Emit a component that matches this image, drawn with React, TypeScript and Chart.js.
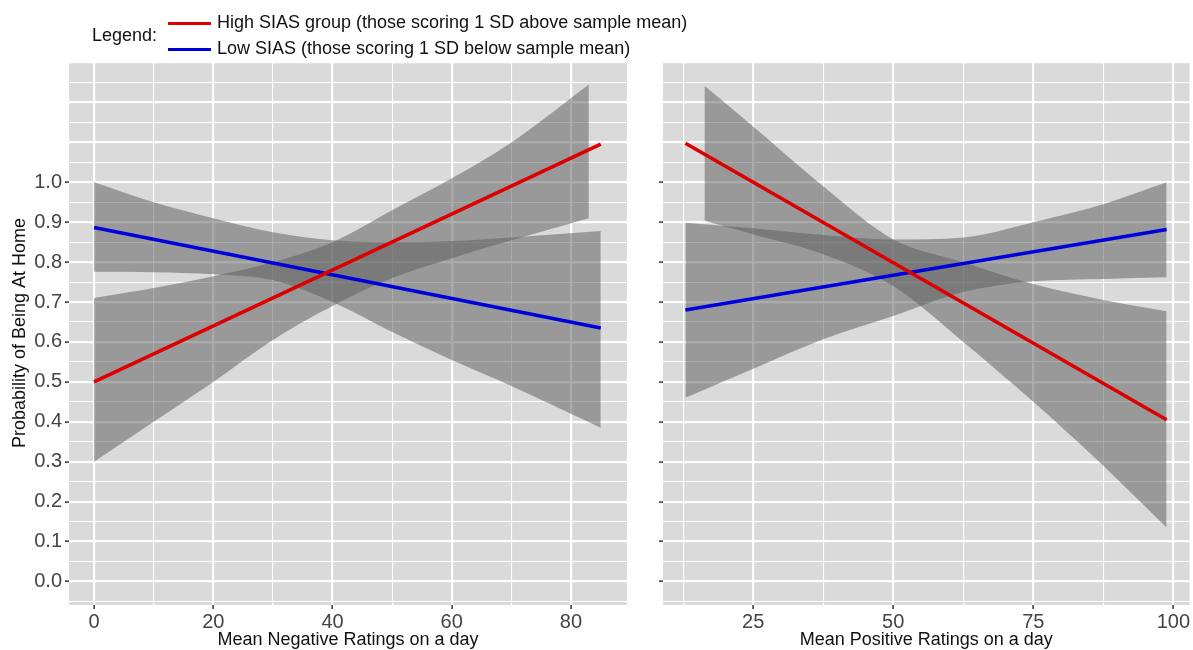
import React, { useEffect, useRef } from 'react';
import { Chart, registerables } from 'chart.js';

Chart.register(...registerables);

const FONT = "'Liberation Sans', Arial, Helvetica, sans-serif";

// ---- text ----
const LEGEND_TITLE = 'Legend:';
const SERIES_NAMES = [
  'High SIAS group (those scoring 1 SD above sample mean)',
  'Low SIAS (those scoring 1 SD below sample mean)',
];
const SERIES_COLORS = ['#DD0000', '#0000DD'];
const Y_TITLE = 'Probability of Being At Home';
const NEG_X_TITLE = 'Mean Negative Ratings on a day';
const POS_X_TITLE = 'Mean Positive Ratings on a day';

// ---- ticks ----
const Y_LABELED = [0, 0.1, 0.2, 0.3, 0.4, 0.5, 0.6, 0.7, 0.8, 0.9, 1.0];
const Y_GRID = [
  -0.05, 0, 0.05, 0.1, 0.15, 0.2, 0.25, 0.3, 0.35, 0.4, 0.45, 0.5, 0.55, 0.6, 0.65,
  0.7, 0.75, 0.8, 0.85, 0.9, 0.95, 1.0, 1.05, 1.1, 1.15, 1.2, 1.25, 1.3,
];
const NEG_X_LABELED = [0, 20, 40, 60, 80];
const NEG_X_GRID = [0, 10, 20, 30, 40, 50, 60, 70, 80];
const POS_X_LABELED = [25, 50, 75, 100];
const POS_X_GRID = [12.5, 25, 37.5, 50, 62.5, 75, 87.5, 100];

// ---- left panel: negative ratings ----
const NEG_LINE_X = [0, 85];
const NEG_HIGH_LINE = [0.5, 1.096];
const NEG_LOW_LINE = [0.887, 0.635];
const NEG_HIGH_BAND_X = [0, 10, 20, 30, 40, 50, 60, 70, 83];
const NEG_HIGH_BAND_UP = [0.71, 0.735, 0.765, 0.8, 0.85, 0.93, 1.01, 1.1, 1.245];
const NEG_HIGH_BAND_LO = [0.3, 0.4, 0.5, 0.605, 0.69, 0.76, 0.81, 0.855, 0.91];
const NEG_LOW_BAND_X = [0, 10, 20, 30, 40, 50, 60, 70, 85];
const NEG_LOW_BAND_UP = [1.0, 0.95, 0.91, 0.875, 0.855, 0.85, 0.853, 0.862, 0.878];
const NEG_LOW_BAND_LO = [0.776, 0.775, 0.77, 0.755, 0.7, 0.625, 0.555, 0.49, 0.385];

// ---- right panel: positive ratings ----
const POS_LINE_X = [12.9, 98.8];
const POS_HIGH_LINE = [1.098, 0.405];
const POS_LOW_LINE = [0.68, 0.882];
const POS_HIGH_BAND_X = [16.3, 25, 37.5, 50, 62.5, 75, 87.5, 98.8];
const POS_HIGH_BAND_UP = [1.242, 1.14, 0.99, 0.857, 0.8, 0.745, 0.705, 0.677];
const POS_HIGH_BAND_LO = [0.904, 0.87, 0.82, 0.74, 0.6, 0.45, 0.29, 0.135];
const POS_LOW_BAND_X = [12.9, 25, 37.5, 50, 62.5, 75, 87.5, 98.8];
const POS_LOW_BAND_UP = [0.899, 0.885, 0.868, 0.857, 0.862, 0.9, 0.945, 1.0];
const POS_LOW_BAND_LO = [0.46, 0.533, 0.607, 0.665, 0.725, 0.752, 0.758, 0.762];

const PANEL_BG = '#DADADA';
const BAND_FILL = 'rgba(94,94,94,0.52)';
const GRID_COLOR = '#FFFFFF';
const TICK_TEXT = '#444444';
const TITLE_TEXT = '#111111';

const key = (v: number) => Math.round(v * 1000);
const pts = (xs: number[], ys: number[]) => xs.map((x, i) => ({ x, y: ys[i] }));

const panelBg = {
  id: 'panelBg',
  beforeDraw(chart: any) {
    const { ctx, chartArea } = chart;
    ctx.save();
    ctx.fillStyle = PANEL_BG;
    ctx.fillRect(chartArea.left, chartArea.top, chartArea.right - chartArea.left, chartArea.bottom - chartArea.top);
    ctx.restore();
  },
};

function band(xs: number[], up: number[], lo: number[]) {
  return [
    {
      type: 'line',
      data: pts(xs, up),
      borderWidth: 0,
      borderColor: 'rgba(0,0,0,0)',
      pointRadius: 0,
      backgroundColor: BAND_FILL,
      fill: '+1',
      cubicInterpolationMode: 'monotone',
      order: 2,
    },
    {
      type: 'line',
      data: pts(xs, lo),
      borderWidth: 0,
      borderColor: 'rgba(0,0,0,0)',
      pointRadius: 0,
      fill: false,
      cubicInterpolationMode: 'monotone',
      order: 2,
    },
  ];
}

function line(xs: number[], ys: number[], color: string) {
  return {
    type: 'line',
    data: pts(xs, ys),
    borderColor: color,
    borderWidth: 3.6,
    pointRadius: 0,
    fill: false,
    tension: 0,
    order: 0,
  };
}

interface PanelSpec {
  xMin: number;
  xMax: number;
  xGrid: number[];
  xLabeled: number[];
  xTitle: string;
  yWidth: number;
  showYLabels: boolean;
  rightPad: number;
  datasets: any[];
}

function buildConfig(p: PanelSpec): any {
  const xLab = new Set(p.xLabeled.map(key));
  const yLab = new Set(Y_LABELED.map(key));
  const yMajor = (v: number) => Math.round(v * 100) % 10 === 0;
  return {
    type: 'line',
    data: { datasets: p.datasets },
    plugins: [panelBg],
    options: {
      responsive: false,
      animation: false,
      events: [],
      layout: { padding: { top: 61, right: p.rightPad, left: 0, bottom: 0 }, autoPadding: false },
      plugins: { legend: { display: false }, tooltip: { enabled: false } },
      scales: {
        x: {
          type: 'linear',
          position: 'bottom',
          min: p.xMin,
          max: p.xMax,
          afterBuildTicks: (s: any) => {
            s.ticks = p.xGrid.map((v) => ({ value: v }));
          },
          afterFit: (s: any) => {
            s.height = 45;
          },
          border: { display: false },
          grid: {
            color: GRID_COLOR,
            lineWidth: (c: any) => (c.tick && xLab.has(key(c.tick.value)) ? 2.2 : 1.1),
            drawTicks: true,
            tickLength: 4,
            tickWidth: 1.5,
            tickColor: (c: any) => (c.tick && xLab.has(key(c.tick.value)) ? '#333333' : 'rgba(0,0,0,0)'),
          },
          ticks: {
            autoSkip: false,
            maxRotation: 0,
            padding: 3,
            color: TICK_TEXT,
            font: { family: FONT, size: 20, lineHeight: 1 },
            callback: (v: number) => (xLab.has(key(v)) ? String(Math.round(v)) : ''),
          },
          title: {
            display: true,
            text: p.xTitle,
            color: TITLE_TEXT,
            font: { family: FONT, size: 18, lineHeight: 1 },
            padding: { top: 0, bottom: 1.3 },
          },
        },
        y: {
          type: 'linear',
          position: 'left',
          min: -0.059,
          max: 1.304,
          afterBuildTicks: (s: any) => {
            s.ticks = Y_GRID.map((v) => ({ value: v }));
          },
          afterFit: (s: any) => {
            s.width = p.yWidth;
          },
          border: { display: false },
          grid: {
            color: GRID_COLOR,
            lineWidth: (c: any) => (c.tick && yMajor(c.tick.value) ? 2.2 : 1.1),
            drawTicks: true,
            tickLength: 4,
            tickWidth: 1.5,
            tickColor: (c: any) => (c.tick && yLab.has(key(c.tick.value)) ? '#333333' : 'rgba(0,0,0,0)'),
          },
          ticks: {
            autoSkip: false,
            padding: 3,
            color: TICK_TEXT,
            font: { family: FONT, size: 20, lineHeight: 1 },
            callback: (v: number) => (p.showYLabels && yLab.has(key(v)) ? v.toFixed(1) : ''),
          },
          title: {
            display: p.showYLabels,
            text: Y_TITLE,
            color: TITLE_TEXT,
            font: { family: FONT, size: 18, lineHeight: 1 },
            padding: { top: 11, bottom: 0 },
          },
        },
      },
    },
  };
}

export default function App() {
  const leftRef = useRef<HTMLCanvasElement>(null);
  const rightRef = useRef<HTMLCanvasElement>(null);

  useEffect(() => {
    const left = new Chart(
      leftRef.current as HTMLCanvasElement,
      buildConfig({
        xMin: -4.2,
        xMax: 89.4,
        xGrid: NEG_X_GRID,
        xLabeled: NEG_X_LABELED,
        xTitle: NEG_X_TITLE,
        yWidth: 69,
        showYLabels: true,
        rightPad: 13,
        datasets: [
          line(NEG_LINE_X, NEG_HIGH_LINE, SERIES_COLORS[0]),
          line(NEG_LINE_X, NEG_LOW_LINE, SERIES_COLORS[1]),
          ...band(NEG_HIGH_BAND_X, NEG_HIGH_BAND_UP, NEG_HIGH_BAND_LO),
          ...band(NEG_LOW_BAND_X, NEG_LOW_BAND_UP, NEG_LOW_BAND_LO),
        ],
      })
    );
    const right = new Chart(
      rightRef.current as HTMLCanvasElement,
      buildConfig({
        xMin: 8.9,
        xMax: 102.9,
        xGrid: POS_X_GRID,
        xLabeled: POS_X_LABELED,
        xTitle: POS_X_TITLE,
        yWidth: 23,
        showYLabels: false,
        rightPad: 0,
        datasets: [
          line(POS_LINE_X, POS_HIGH_LINE, SERIES_COLORS[0]),
          line(POS_LINE_X, POS_LOW_LINE, SERIES_COLORS[1]),
          ...band(POS_HIGH_BAND_X, POS_HIGH_BAND_UP, POS_HIGH_BAND_LO),
          ...band(POS_LOW_BAND_X, POS_LOW_BAND_UP, POS_LOW_BAND_LO),
        ],
      })
    );
    return () => {
      left.destroy();
      right.destroy();
    };
  }, []);

  const text: React.CSSProperties = {
    position: 'absolute',
    fontSize: 18,
    lineHeight: '18px',
    color: '#111',
    whiteSpace: 'nowrap',
  };
  const swatch: React.CSSProperties = { position: 'absolute', left: 168, width: 43, height: 3.5 };

  return (
    <div
      style={{
        position: 'fixed',
        left: 0,
        top: 0,
        width: 1193,
        height: 650,
        background: '#fff',
        overflow: 'hidden',
        fontFamily: FONT,
      }}
    >
      <canvas ref={leftRef} width={640} height={650} style={{ position: 'absolute', left: 0, top: 0, width: 640, height: 650 }} />
      <canvas ref={rightRef} width={553} height={650} style={{ position: 'absolute', left: 640, top: 0, width: 553, height: 650 }} />
      <div style={{ ...text, left: 92, top: 26 }}>{LEGEND_TITLE}</div>
      <div style={{ ...swatch, top: 21.5, background: SERIES_COLORS[0] }} />
      <div style={{ ...text, left: 217, top: 13 }}>{SERIES_NAMES[0]}</div>
      <div style={{ ...swatch, top: 47.5, background: SERIES_COLORS[1] }} />
      <div style={{ ...text, left: 217, top: 39 }}>{SERIES_NAMES[1]}</div>
    </div>
  );
}
